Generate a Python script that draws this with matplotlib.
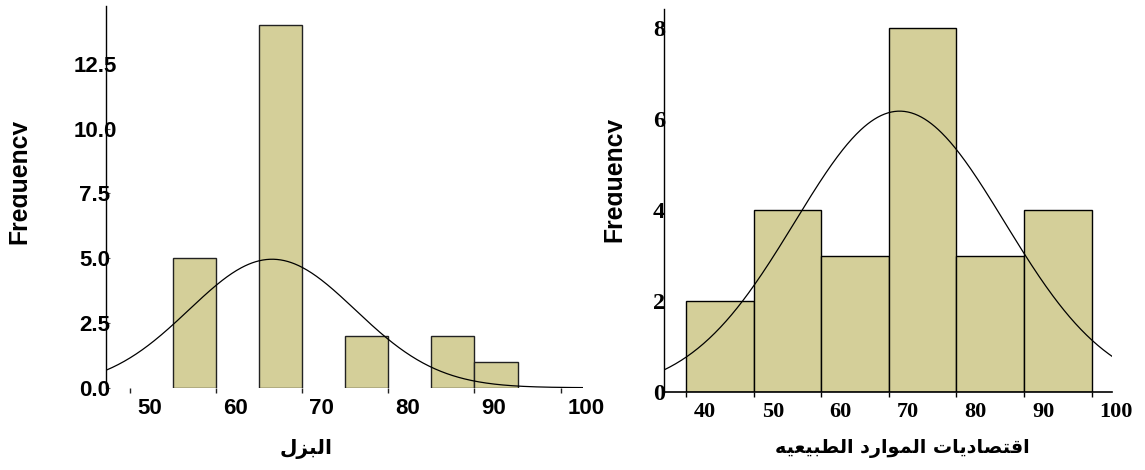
import numpy as np
import matplotlib
matplotlib.use("Agg")
import matplotlib.pyplot as plt
from matplotlib.transforms import ScaledTranslation, Bbox, TransformedBbox

# ---------------- data ----------------
left_bin_left = [55, 65, 75, 85, 90]
left_counts = [5, 14, 2, 2, 1]
left_bin_width = 5
left_mean, left_sd = 66.5, 9.65
left_xticks = [50, 60, 70, 80, 90, 100]
left_yticks = [0.0, 2.5, 5.0, 7.5, 10.0, 12.5]
left_xlabel = "البزل"

right_bin_left = [40, 50, 60, 70, 80, 90]
right_counts = [2, 4, 3, 8, 3, 4]
right_bin_width = 10
right_mean, right_sd = 71.6, 15.49
right_xticks = [40, 50, 60, 70, 80, 90, 100]
right_yticks = [0, 2, 4, 6, 8]
right_xlabel = "اقتصاديات الموارد الطبيعيه"

ylabel_text = "Frequency"

BAR_COLOR = "#D4CF99"

# ---------------- minimal Arabic shaping (presentation forms, RTL) ----------------
FORMS = {  # isolated, final, initial, medial
    "\u0627": ("\uFE8D", "\uFE8E", None, None),
    "\u0628": ("\uFE8F", "\uFE90", "\uFE91", "\uFE92"),
    "\u062A": ("\uFE95", "\uFE96", "\uFE97", "\uFE98"),
    "\u062F": ("\uFEA9", "\uFEAA", None, None),
    "\u0631": ("\uFEAD", "\uFEAE", None, None),
    "\u0632": ("\uFEAF", "\uFEB0", None, None),
    "\u0635": ("\uFEB9", "\uFEBA", "\uFEBB", "\uFEBC"),
    "\u0637": ("\uFEC1", "\uFEC2", "\uFEC3", "\uFEC4"),
    "\u0639": ("\uFEC9", "\uFECA", "\uFECB", "\uFECC"),
    "\u0642": ("\uFED5", "\uFED6", "\uFED7", "\uFED8"),
    "\u0644": ("\uFEDD", "\uFEDE", "\uFEDF", "\uFEE0"),
    "\u0645": ("\uFEE1", "\uFEE2", "\uFEE3", "\uFEE4"),
    "\u0647": ("\uFEE9", "\uFEEA", "\uFEEB", "\uFEEC"),
    "\u0648": ("\uFEED", "\uFEEE", None, None),
    "\u064A": ("\uFEF1", "\uFEF2", "\uFEF3", "\uFEF4"),
}


def shape_arabic(text):
    out = []
    for i, ch in enumerate(text):
        if ch not in FORMS:
            out.append(ch)
            continue
        prev = text[i - 1] if i > 0 else ""
        nxt = text[i + 1] if i + 1 < len(text) else ""
        jp = prev in FORMS and FORMS[prev][2] is not None
        jn = FORMS[ch][2] is not None and nxt in FORMS
        iso, fin, ini, med = FORMS[ch]
        if jp and jn:
            out.append(med)
        elif jp:
            out.append(fin)
        elif jn:
            out.append(ini)
        else:
            out.append(iso)
    return "".join(reversed(out))


def normal_curve(x, n, w, mu, sd):
    return n * w / (sd * np.sqrt(2 * np.pi)) * np.exp(-0.5 * ((x - mu) / sd) ** 2)


W, H = 1145, 470
fig = plt.figure(figsize=(W / 100, H / 100), dpi=100)
fig.patch.set_facecolor("white")


def px_rect(x0, y_top, x1, y_bot):
    return [x0 / W, (H - y_bot) / H, (x1 - x0) / W, (y_bot - y_top) / H]


def offset_xticklabels(ax, dx_px):
    off = ScaledTranslation(dx_px / 100, 0, fig.dpi_scale_trans)
    for lab in ax.get_xticklabels():
        lab.set_horizontalalignment("left")
        lab.set_transform(lab.get_transform() + off)


# ---------------- left panel ----------------
axL = fig.add_axes(px_rect(106.3, 6, 583, 387.7))
axL.bar(left_bin_left, left_counts, width=left_bin_width, align="edge",
        color=BAR_COLOR, edgecolor="#222222", linewidth=1.0, zorder=2)
xl = np.linspace(47.25, 102.6, 400)
axL.plot(xl, normal_curve(xl, sum(left_counts), left_bin_width, left_mean, left_sd),
         color="black", lw=0.9, zorder=3)
axL.set_xlim(47.25, 102.6)
axL.set_ylim(0, 14.74)
for s in ["top", "right", "bottom"]:
    axL.spines[s].set_visible(False)
axL.spines["left"].set_linewidth(1.0)
axL.spines["left"].set_zorder(4)
axL.set_xticks(left_xticks)
axL.set_xticklabels([str(v) for v in left_xticks])
axL.set_yticks(left_yticks)
axL.set_yticklabels([f"{v:.1f}" for v in left_yticks])
axL.tick_params(axis="x", direction="out", length=3.6, width=1, color="#222222",
                pad=4.0, labelsize=16)
axL.tick_params(axis="y", direction="in", length=3, width=0.8, color="#555555",
                pad=8.1, labelsize=16)
for lab in axL.get_xticklabels() + axL.get_yticklabels():
    lab.set_fontfamily(["Liberation Sans", "DejaVu Sans"])
    lab.set_fontweight("bold")
    lab.set_zorder(5)
for lab in axL.get_yticklabels():
    lab.set_horizontalalignment("center")
offset_xticklabels(axL, 7)
axL.patch.set_alpha(0)

# ---------------- right panel ----------------
axR = fig.add_axes(px_rect(664.3, 9.3, 1112.3, 392.3))
axR.bar(right_bin_left, right_counts, width=right_bin_width, align="edge",
        color=BAR_COLOR, edgecolor="black", linewidth=1.0, zorder=2)
xr = np.linspace(36.79, 103.05, 400)
axR.plot(xr, normal_curve(xr, sum(right_counts), right_bin_width, right_mean, right_sd),
         color="black", lw=0.9, zorder=3)
axR.set_xlim(36.79, 103.05)
axR.set_ylim(0, 8.42)
for s in ["top", "right"]:
    axR.spines[s].set_visible(False)
axR.spines["left"].set_linewidth(1.0)
axR.spines["bottom"].set_linewidth(1.2)
axR.set_xticks(right_xticks)
axR.set_xticklabels([str(v) for v in right_xticks])
axR.set_yticks(right_yticks)
axR.set_yticklabels([str(v) for v in right_yticks])
axR.tick_params(axis="x", direction="out", length=3.6, width=1, color="black",
                pad=3.2, labelsize=16)
axR.tick_params(axis="y", length=0, pad=-0.5, labelsize=17.5)
for lab in axR.get_xticklabels() + axR.get_yticklabels():
    lab.set_fontfamily(["Liberation Serif", "DejaVu Serif"])
    lab.set_fontweight("bold")
offset_xticklabels(axR, 8)

# ---------------- y labels (descenders clipped as in the reference) ----------------
for xb, yc in [(26.3, 181), (621.0, 179)]:
    t = fig.text(xb / W, (H - yc) / H, ylabel_text, rotation=90,
                 rotation_mode="anchor", ha="center", va="baseline",
                 fontsize=17.8, fontweight="bold",
                 family=["Liberation Sans", "DejaVu Sans"])
    clip = TransformedBbox(Bbox([[(xb - 40) / W, 0], [(xb + 0.5) / W, 1]]),
                           fig.transFigure)
    t.set_clip_box(clip)
    t.set_clip_on(True)

# ---------------- x labels (Arabic) ----------------
fig.text(306 / W, (H - 449) / H, shape_arabic(left_xlabel), ha="center", va="center",
         fontsize=14.5, fontweight="bold", family=["DejaVu Sans"])
fig.text(902 / W, (H - 449) / H, shape_arabic(right_xlabel), ha="center", va="center",
         fontsize=13.8, fontweight="bold", family=["DejaVu Sans"])

fig.savefig("out.png", dpi=100, facecolor="white")
